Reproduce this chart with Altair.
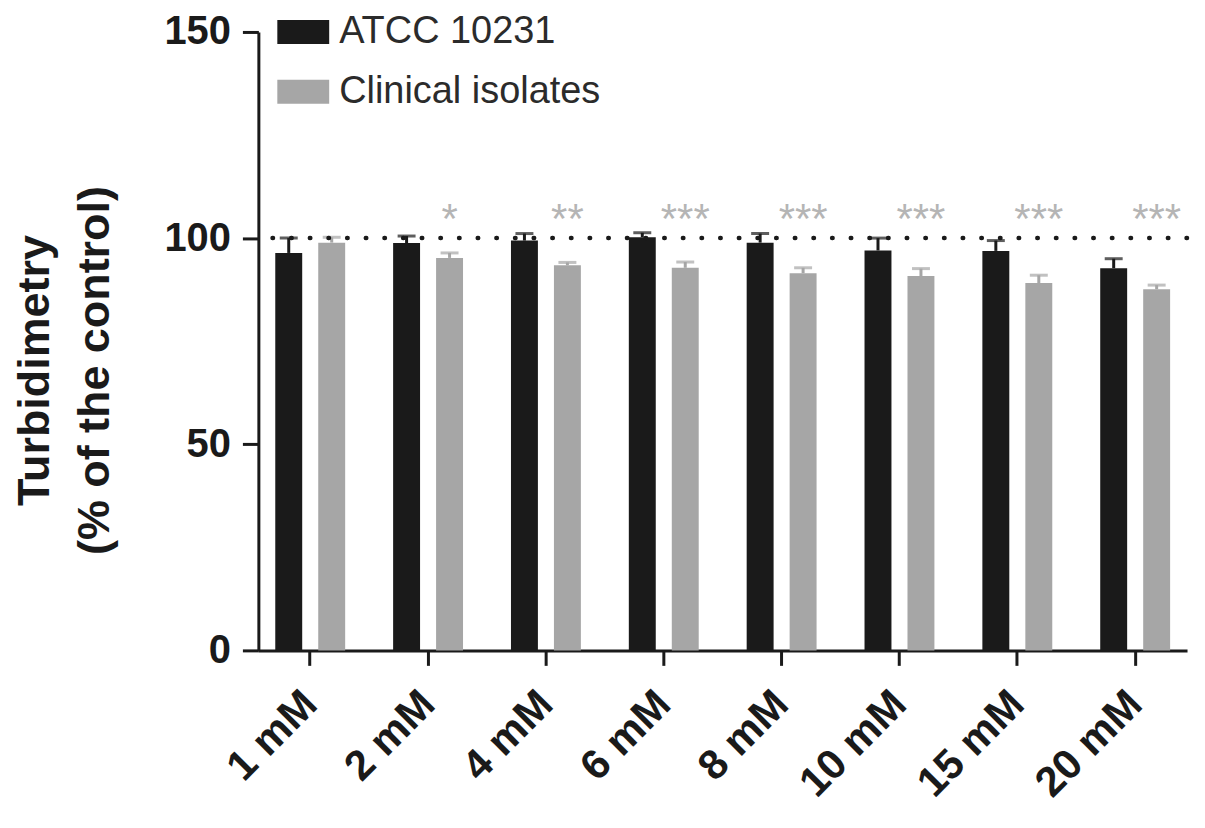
import altair as alt
import pandas as pd

concentrations = ["1 mM", "2 mM", "4 mM", "6 mM", "8 mM", "10 mM", "15 mM", "20 mM"]
strains = ["ATCC 10231", "Clinical isolates"]
atcc_values = [96.4, 98.8, 99.4, 100.2, 98.9, 97.0, 96.9, 92.7]
atcc_errors = [3.6, 1.7, 1.7, 1.1, 2.2, 3.0, 2.5, 2.3]
clinical_values = [98.9, 95.2, 93.4, 92.8, 91.5, 90.8, 89.1, 87.6]
clinical_errors = [1.3, 1.2, 0.7, 1.4, 1.3, 1.8, 1.9, 1.0]
clinical_sig = ["", "*", "**", "***", "***", "***", "***", "***"]
sig_level = 101.2
control_level = [100]

rows = []
for i, c in enumerate(concentrations):
    rows.append({"conc": c, "strain": strains[0], "value": atcc_values[i],
                 "err": atcc_errors[i], "sig": "", "siglevel": sig_level})
    rows.append({"conc": c, "strain": strains[1], "value": clinical_values[i],
                 "err": clinical_errors[i], "sig": clinical_sig[i], "siglevel": sig_level})
df = pd.DataFrame(rows)
df["upper"] = df["value"] + df["err"]

FONT = "Liberation Sans"
BLACK = "#1a1a1a"
GREY = "#a6a6a6"

x_enc = alt.X("conc:N", sort=concentrations, title=None,
              scale=alt.Scale(paddingInner=0.3, paddingOuter=0.09),
              axis=alt.Axis(labelAngle=-45, labelAlign="right", labelBaseline="middle",
                            labelFont=FONT, labelFontSize=42, labelFontWeight="bold",
                            labelColor=BLACK, labelPadding=32, tickSize=15, tickWidth=3,
                            tickColor=BLACK, domainWidth=3, domainColor=BLACK))
xoff = alt.XOffset("strain:N", sort=strains,
                   scale=alt.Scale(paddingInner=0.37, paddingOuter=0.145))
y_scale = alt.Scale(domain=[0, 150], nice=False)
y_axis = alt.Axis(values=[0, 50, 100, 150], grid=False, labelFont=FONT, labelFontSize=40,
                  labelFontWeight="bold", labelColor=BLACK, labelPadding=12, tickSize=16,
                  tickWidth=3, tickColor=BLACK, domainWidth=3, domainColor=BLACK,
                  title=["Turbidimetry", "(% of the control)"], titleFont=FONT,
                  titleFontSize=45, titleFontWeight="bold", titleColor=BLACK,
                  titleAngle=270, titleAlign="center", titleBaseline="alphabetic",
                  titleLineHeight=60, titleX=-210, titleY=339)

base = alt.Chart(df)

bars = base.mark_bar(size=27).encode(
    x=x_enc,
    xOffset=xoff,
    y=alt.Y("value:Q", scale=y_scale, axis=y_axis),
    color=alt.Color("strain:N", sort=strains,
                    scale=alt.Scale(domain=strains, range=[BLACK, GREY]),
                    legend=alt.Legend(title=None, orient="none", legendX=19, legendY=-26,
                                      symbolType="M-1,-0.46H1V0.46H-1Z", symbolSize=2704,
                                      symbolStrokeWidth=0, labelFont=FONT, labelFontSize=38,
                                      labelColor="#2b2b2b", labelOffset=10, rowPadding=15,
                                      padding=0, labelLimit=400)),
)

def err_layers(strain, color):
    b = base.transform_filter(alt.datum.strain == strain)
    rule = b.mark_rule(color=color, strokeWidth=3).encode(
        x=alt.X("conc:N", sort=concentrations), xOffset=xoff,
        y=alt.Y("value:Q", scale=y_scale), y2="upper:Q")
    cap = b.mark_tick(color=color, size=18, thickness=3).encode(
        x=alt.X("conc:N", sort=concentrations), xOffset=xoff,
        y=alt.Y("upper:Q", scale=y_scale))
    return rule + cap

ref = alt.Chart(pd.DataFrame({"ref": control_level})).mark_rule(
    color=BLACK, strokeWidth=4.5, strokeDash=[0.5, 18.2], strokeCap="round"
).encode(y=alt.Y("ref:Q", scale=y_scale))

sig = base.transform_filter(alt.datum.sig != "").mark_text(
    font=FONT, fontSize=42, color="#b5b5b5", baseline="alphabetic", align="center"
).encode(x=alt.X("conc:N", sort=concentrations), xOffset=xoff,
         y=alt.Y("siglevel:Q", scale=y_scale), text="sig:N")

chart = alt.layer(
    bars, err_layers(strains[0], BLACK), err_layers(strains[1], GREY), ref, sig
).properties(
    width=931, height=620,
    autosize=alt.AutoSizeParams(type="none"),
    padding={"left": 251, "top": 23, "right": 10, "bottom": 158},
).configure(background="white", view=alt.ViewConfig(strokeWidth=0, stroke="transparent"))

chart.save("out.html", embed_options={"renderer": "svg", "actions": False})
